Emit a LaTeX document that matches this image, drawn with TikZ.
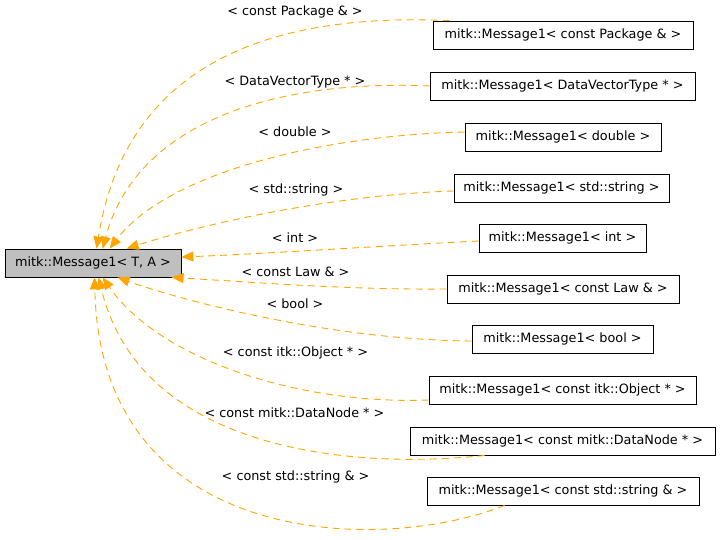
\documentclass[tikz,border=0pt]{standalone}
\usepackage{fontspec}
\setmainfont{DejaVu Sans}
\usetikzlibrary{arrows.meta}
\definecolor{edgeorange}{HTML}{FFA500}
\definecolor{basegray}{HTML}{BFBFBF}
\tikzset{
  cls/.style={draw=black, line width=0.8bp, inner sep=0pt, minimum height=28bp, font=\fontsize{12.8bp}{15bp}\selectfont},
  basecls/.style={cls, fill=basegray},
  lbl/.style={inner sep=0pt, font=\fontsize{12.8bp}{15bp}\selectfont},
  dep/.style={draw=edgeorange, line width=0.9bp, dash pattern=on 7bp off 5bp, -{Triangle[length=12bp,width=10bp,fill=edgeorange]}},
}
\begin{document}
\begin{tikzpicture}[x=1bp,y=-1bp]
\useasboundingbox (0,0) rectangle (720,540);
\node[basecls, minimum width=176bp] (base) at (93,263) {mitk::Message1< T, A >};
\node[cls, minimum width=260bp] (n1) at (563,35) {mitk::Message1< const Package \& >};
\node[cls, minimum width=265bp] (n2) at (562.5,86) {mitk::Message1< DataVectorType * >};
\node[cls, minimum width=196bp] (n3) at (563,137) {mitk::Message1< double >};
\node[cls, minimum width=215bp] (n4) at (561.5,188) {mitk::Message1< std::string >};
\node[cls, minimum width=167bp] (n5) at (562.5,238) {mitk::Message1< int >};
\node[cls, minimum width=232bp] (n6) at (563,289) {mitk::Message1< const Law \& >};
\node[cls, minimum width=181bp] (n7) at (562.5,339) {mitk::Message1< bool >};
\node[cls, minimum width=267bp] (n8) at (562.5,390) {mitk::Message1< const itk::Object * >};
\node[cls, minimum width=305bp] (n9) at (562.5,441) {mitk::Message1< const mitk::DataNode * >};
\node[cls, minimum width=272bp] (n10) at (563,491) {mitk::Message1< const std::string \& >};

\node[lbl] (l1) at (295,12) {< const Package \& >};
\node[lbl] (l2) at (295,82) {< DataVectorType * >};
\node[lbl] (l3) at (295,132) {< double >};
\node[lbl] (l4) at (296,190) {< std::string >};
\node[lbl] (l5) at (295,238) {< int >};
\node[lbl] (l6) at (295.5,272) {< const Law \& >};
\node[lbl] (l7) at (295,304) {< bool >};
\node[lbl] (l8) at (295.5,353) {< const itk::Object * >};
\node[lbl] (l9) at (294.5,413) {< const mitk::DataNode * >};
\node[lbl] (l10) at (295.5,477) {< const std::string \& >};

\draw[dep] ([xshift=17bp]n1.north west) .. controls (260,12) and (125,70) .. ([xshift=92bp]base.north west);
\draw[dep] (n2.west) .. controls (300,80) and (140,110) .. ([xshift=98bp]base.north west);
\draw[dep] ([yshift=5bp]n3.west) .. controls (330,135) and (170,170) .. ([xshift=105bp]base.north west);
\draw[dep] ([yshift=-3bp]n4.west) .. controls (330,195) and (200,225) .. ([xshift=122bp]base.north west);
\draw[dep] ([yshift=-3bp]n5.west) .. controls (380,246) and (260,254) .. ([yshift=6bp]base.east);
\draw[dep] (n6.west) .. controls (350,290) and (250,282) .. ([xshift=167bp]base.south west);
\draw[dep] ([yshift=-2bp]n7.west) .. controls (330,340) and (180,300) .. ([xshift=113bp]base.south west);
\draw[dep] ([yshift=-10bp]n8.west) .. controls (300,405) and (160,360) .. ([xshift=98bp]base.south west);
\draw[dep] ([xshift=75bp]n9.south west) .. controls (350,470) and (140,450) .. ([xshift=94bp]base.south west);
\draw[dep] ([xshift=78bp]n10.south west) .. controls (380,555) and (100,548) .. ([xshift=90bp]base.south west);
\end{tikzpicture}
\end{document}
